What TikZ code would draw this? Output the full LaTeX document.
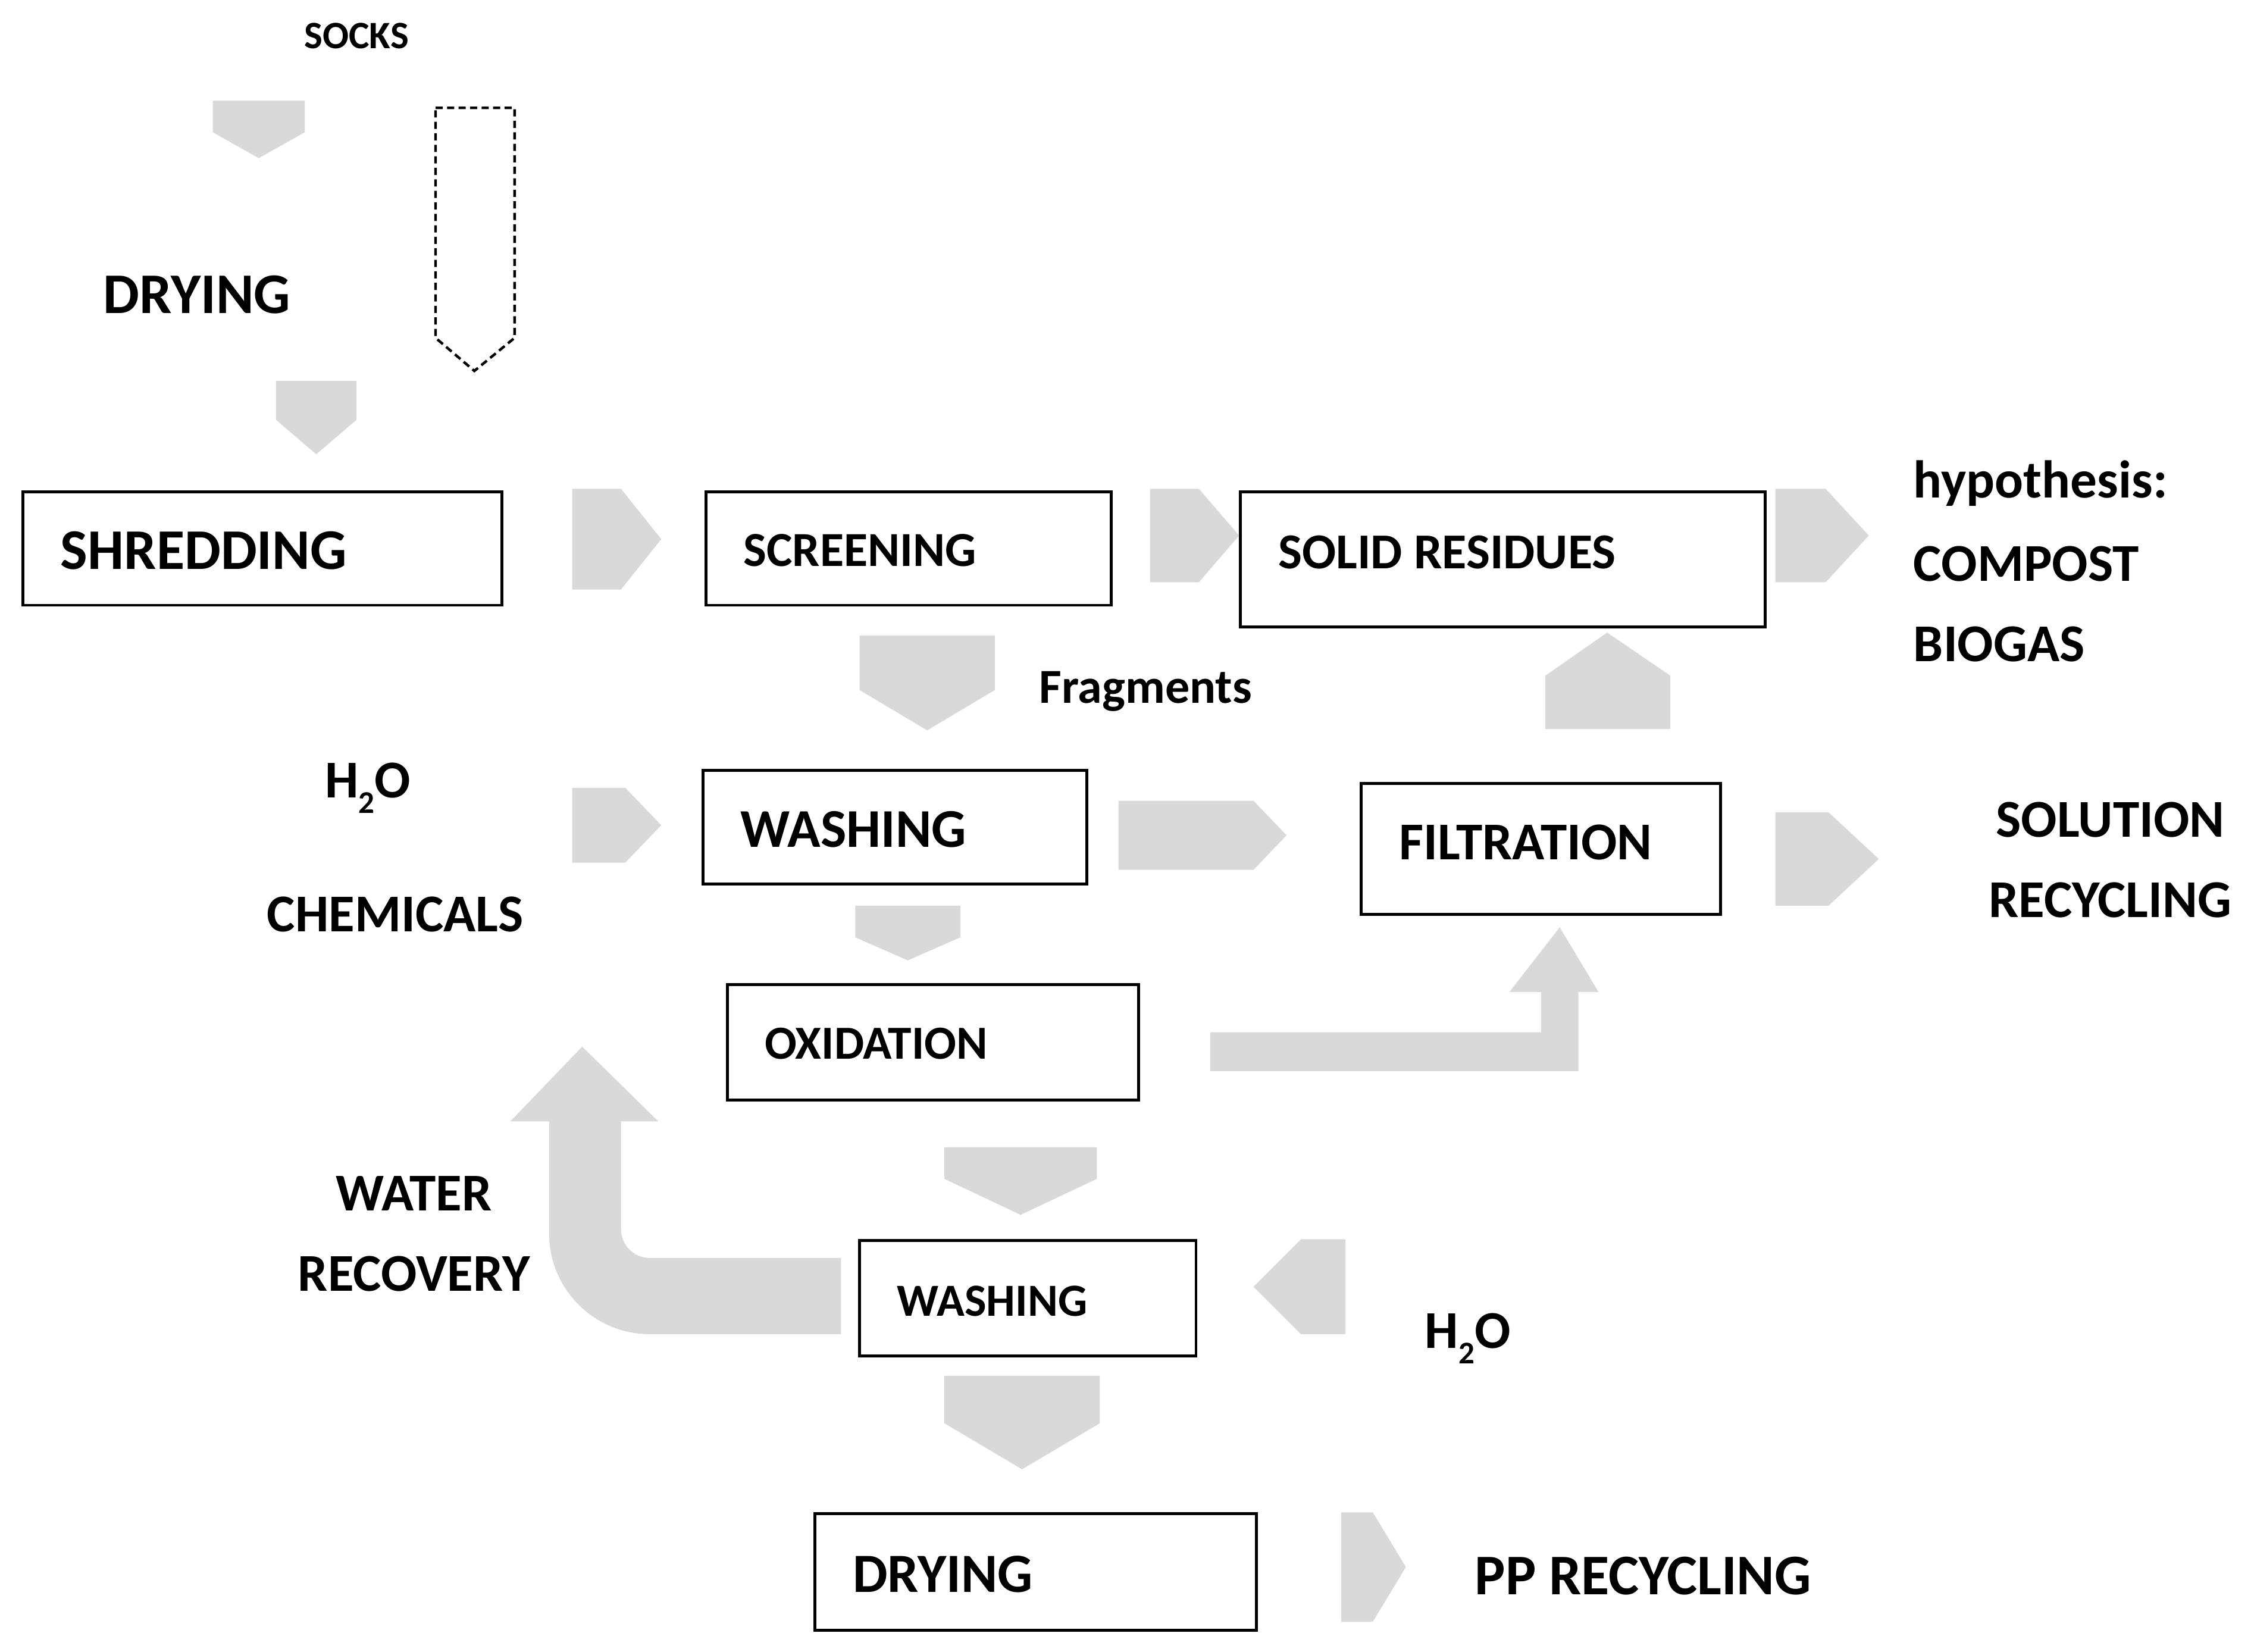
\documentclass[tikz,border=0pt]{standalone}
\usepackage{fontspec}
\setmainfont{Carlito}
\definecolor{arr}{HTML}{D9D9D9}
\newcommand\chD[5]{\fill[arr] (#1,#3) -- (#2,#3) -- (#2,#4) -- ({(#1+#2)/2},#5) -- (#1,#4) -- cycle;}
\newcommand\chR[5]{\fill[arr] (#1,#3) -- (#4,#3) -- (#5,{(#3+#2)/2}) -- (#4,#2) -- (#1,#2) -- cycle;}
\begin{document}
\begin{tikzpicture}[x=1pt,y=-1pt,
  box/.style={draw,line width=2pt,anchor=north west,inner sep=0pt},
  lab/.style={font=\bfseries\fontsize{37}{39}\selectfont,inner sep=0pt},
  blab/.style={inner sep=0pt,anchor=west}]
\useasboundingbox (0,0) rectangle (1568,1149);
% text
\node[lab,font=\bfseries\fontsize{27}{29}\selectfont] (socks) at (248,25) {SOCKS};
\node[lab,font=\bfseries\fontsize{40}{42}\selectfont] (dry1) at (137,205) {DRYING};
\node[lab,anchor=west] (hyp) at (1331,336) {hypothesis:};
\node[lab,anchor=west] (comp) at (1331,392) {COMPOST};
\node[lab,anchor=west] (bio) at (1331,448) {BIOGAS};
\node[lab,font=\bfseries\fontsize{34}{36}\selectfont] (frag) at (797,481) {Fragments};
\node[lab] (h2oa) at (256,548) {H\raisebox{-0.6ex}{\fontsize{22}{22}\selectfont 2}O};
\node[lab] (chem) at (275,636) {CHEMICALS};
\node[lab] (sol) at (1468,570) {SOLUTION};
\node[lab] (rec) at (1468,626) {RECYCLING};
\node[lab] (wat) at (288,830) {WATER};
\node[lab] (wrec) at (288,886) {RECOVERY};
\node[lab] (h2ob) at (1021,931) {H\raisebox{-0.6ex}{\fontsize{22}{22}\selectfont 2}O};
\node[lab,font=\bfseries\fontsize{40}{42}\selectfont] (pp) at (1143,1096) {PP RECYCLING};
% boxes
\node[box,minimum width=333,minimum height=79] (shred) at (15,341) {};
\node[blab,font=\bfseries\fontsize{40}{42}\selectfont] at (42,383) {SHREDDING};
\node[box,minimum width=282,minimum height=79] (scr) at (490,341) {};
\node[blab,font=\bfseries\fontsize{34}{36}\selectfont] at (517,383) {SCREENING};
\node[box,minimum width=365,minimum height=94] (solid) at (862,341) {};
\node[blab,font=\bfseries\fontsize{35}{37}\selectfont] at (889,384) {SOLID RESIDUES};
\node[box,minimum width=267,minimum height=79] (wash1) at (488,535) {};
\node[blab,font=\bfseries\fontsize{38}{40}\selectfont] at (515,577) {WASHING};
\node[box,minimum width=250,minimum height=91] (filt) at (946,544) {};
\node[blab,font=\bfseries\fontsize{37}{39}\selectfont] at (973,586) {FILTRATION};
\node[box,minimum width=286,minimum height=80] (oxi) at (505,684) {};
\node[blab,font=\bfseries\fontsize{33}{35}\selectfont] at (532,726) {OXIDATION};
\node[box,minimum width=234,minimum height=80] (wash2) at (597,862) {};
\node[blab,font=\bfseries\fontsize{32}{34}\selectfont] at (624,905) {WASHING};
\node[box,minimum width=307,minimum height=81] (dry2) at (566,1052) {};
\node[blab,font=\bfseries\fontsize{38.5}{40}\selectfont] at (593,1095) {DRYING};
% chevrons
\chD{148}{212}{70}{92}{110}
\draw[dash pattern=on 5pt off 3pt,line width=1.8pt] (303,75) -- (358,75) -- (358,235) -- (330,258) -- (303,235) -- cycle;
\chD{192}{248}{265}{292}{316}
\chR{398}{410}{340}{432}{460}
\chR{800}{405}{340}{834}{862}
\chR{1235}{405}{340}{1270}{1300}
\chD{598}{692}{442}{480}{508}
\chR{398}{600}{548}{435}{460}
\chR{778}{605}{557}{872}{895}
\chR{1235}{630}{565}{1272}{1307}
\fill[arr] (1075,507) -- (1162,507) -- (1162,470) -- (1118,440) -- (1075,470) -- cycle;
\chD{595}{668}{630}{652}{668}
\fill[arr] (842,718) -- (1072,718) -- (1072,690) -- (1050,690) -- (1085,645) -- (1112,690) -- (1098,690) -- (1098,745) -- (842,745) -- cycle;
\chD{657}{763}{798}{820}{845}
\fill[arr] (872,895) -- (905,862) -- (936,862) -- (936,928) -- (905,928) -- cycle;
\fill[arr] (585,875) -- (452,875) arc[start angle=90,end angle=180,radius=20] -- (432,780) -- (458,780) -- (405,728) -- (355,780) -- (382,780) -- (382,858) arc[start angle=180,end angle=90,radius=70] -- (585,928) -- cycle;
\chD{657}{765}{957}{990}{1022}
\chR{933}{1128}{1052}{955}{978}
\end{tikzpicture}
\end{document}
